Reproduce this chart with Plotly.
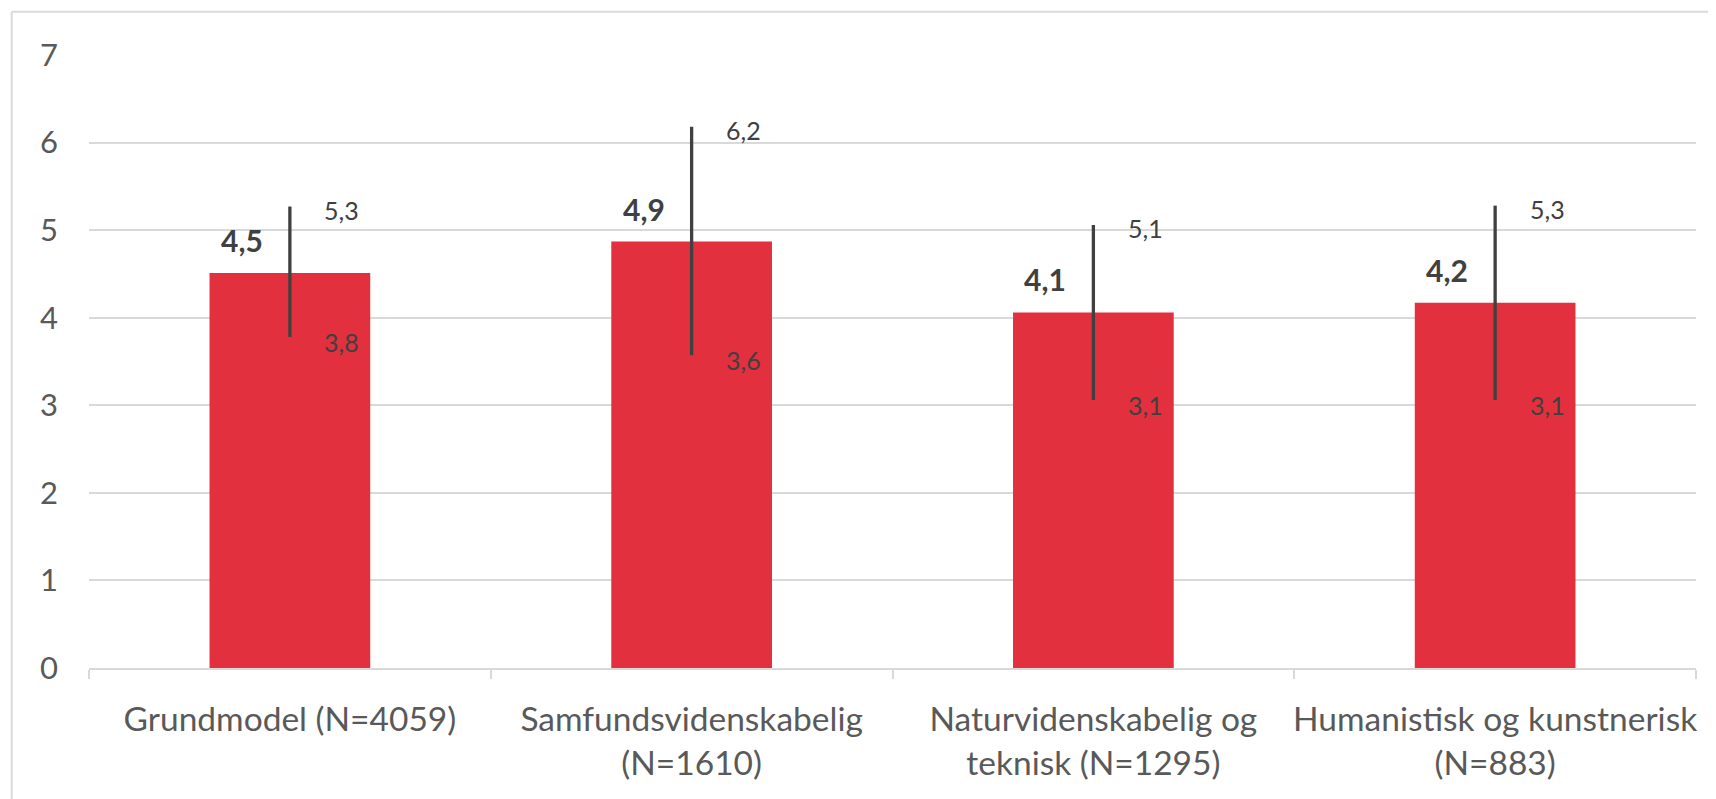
import plotly.graph_objects as go

# kategorier (x-akse), gennemsnit og intervalgrænser
kategorier = [
    "Grundmodel (N=4059)",
    "Samfundsvidenskabelig<br>(N=1610)",
    "Naturvidenskabelig og<br>teknisk (N=1295)",
    "Humanistisk og kunstnerisk<br>(N=883)",
]
gennemsnit = [4.51, 4.87, 4.06, 4.17]
oevre = [5.27, 6.18, 5.06, 5.28]
nedre = [3.78, 3.57, 3.06, 3.06]
y_ticks = [0, 1, 2, 3, 4, 5, 6, 7]


def komma(v):
    return f"{v:.1f}".replace(".", ",")


fig = go.Figure()
fig.add_trace(go.Bar(
    x=kategorier,
    y=gennemsnit,
    marker=dict(color="#e2303e", line=dict(width=0)),
    error_y=dict(
        type="data",
        symmetric=False,
        array=[o - m for o, m in zip(oevre, gennemsnit)],
        arrayminus=[m - n for m, n in zip(gennemsnit, nedre)],
        color="#404040",
        thickness=3.3,
        width=0,
    ),
    hoverinfo="skip",
))

# datalabels
for k, m, o, n in zip(kategorier, gennemsnit, oevre, nedre):
    fig.add_annotation(x=k, y=m, text=komma(m), showarrow=False,
                       xshift=-48, yshift=33,
                       font=dict(family="Lato", size=30, color="#404040", weight="bold"))
    fig.add_annotation(x=k, y=o, text=komma(o), showarrow=False,
                       xshift=52, yshift=-3,
                       font=dict(family="Lato", size=25, color="#404040"))
    fig.add_annotation(x=k, y=n, text=komma(n), showarrow=False,
                       xshift=52, yshift=-5,
                       font=dict(family="Lato", size=25, color="#404040"))

# ramme rundt om diagrammet
fig.add_shape(type="line", xref="paper", yref="paper",
              x0=-0.0481, x1=-0.0481, y0=1.0706, y1=-0.3,
              line=dict(color="#d9d9d9", width=2))
fig.add_shape(type="line", xref="paper", yref="paper",
              x0=-0.0481, x1=1.05, y0=1.0706, y1=1.0706,
              line=dict(color="#d9d9d9", width=2))

fig.update_layout(
    width=1716,
    height=799,
    autosize=False,
    margin=dict(l=81, r=28, t=47, b=139),
    paper_bgcolor="white",
    plot_bgcolor="white",
    bargap=0.6,
    showlegend=False,
    separators=",.",
    font=dict(family="Lato", color="#595959"),
)
fig.update_xaxes(
    showline=True, linecolor="#d9d9d9", linewidth=2,
    ticks="outside", tickson="boundaries", ticklen=9,
    tickcolor="#d9d9d9", tickwidth=2,
    tickfont=dict(family="Lato", size=33.5, color="#595959"),
    tickangle=0, automargin=False,
    ticklabelstandoff=21,
    showgrid=False,
)
fig.update_yaxes(
    range=[0, 7], tickvals=y_ticks,
    showgrid=True, gridcolor="#d9d9d9", gridwidth=2,
    zeroline=False, showline=False, ticks="",
    tickfont=dict(family="Lato", size=31, color="#595959"),
    ticklabelstandoff=30, automargin=False,
)

fig.write_html("out.html")
